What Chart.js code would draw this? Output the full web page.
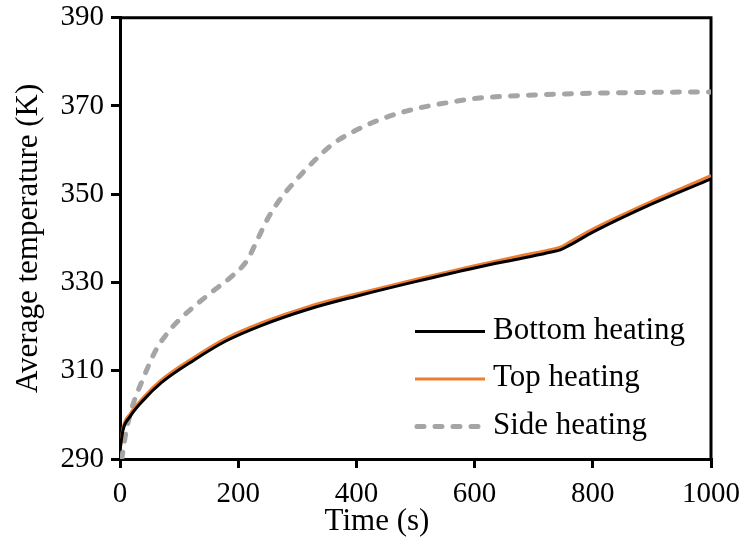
<!DOCTYPE html>
<html><head><meta charset="utf-8">
<script src="https://cdn.jsdelivr.net/npm/chart.js@4.4.1/dist/chart.umd.min.js"></script>
<style>html,body{margin:0;padding:0;background:#fff}#wrap{width:743px;height:545px}</style>
</head><body><div id="wrap"><canvas id="c" width="743" height="545"></canvas></div>
<script>
// ---- data ----
const xTicks = [0, 200, 400, 600, 800, 1000];
const yTicks = [290, 310, 330, 350, 370, 390];
const seriesNames = ['Bottom heating', 'Top heating', 'Side heating'];
const xTitle = 'Time (s)';
const yTitle = 'Average temperature (K)';

const bottomTime = [0, 5, 17, 40, 70, 125, 180, 240, 320, 400, 500, 600, 680, 730, 745, 760, 800, 900, 1000];
const bottomTemp = [292, 296.5, 299.6, 303.4, 307.3, 312.4, 316.8, 320.3, 324, 326.9, 330.2, 333.3, 335.5, 336.9, 337.4, 338.4, 341.4, 347.8, 353.5];

const topTime = [0, 5, 17, 40, 70, 125, 180, 240, 320, 400, 500, 600, 680, 730, 745, 760, 800, 900, 1000];
const topTemp = [292, 297, 300.2, 304, 307.9, 313, 317.4, 320.9, 324.6, 327.4, 330.7, 333.8, 336.1, 337.5, 338, 339.1, 342.1, 348.4, 354.2];

const sideTime = [3, 10, 20, 40, 60, 80, 100, 150, 190, 215, 230, 250, 270, 290, 310, 335, 360, 395, 430, 470, 515, 565, 600, 700, 800, 900, 1000];
const sideTemp = [290, 296, 301.5, 308.5, 314.5, 318.5, 321.5, 327.3, 331.5, 335, 339, 344.5, 348.7, 352, 355, 358.4, 361.4, 364.2, 366.4, 368.3, 369.8, 371, 371.7, 372.5, 372.9, 373.1, 373.2];

const FONT = "'Liberation Serif', 'Times New Roman', serif";
const toXY = (xs, ys) => xs.map((x, i) => ({x: x, y: ys[i]}));

const framePlugin = {
  id: 'frame',
  beforeDatasetsDraw(chart) {
    const {ctx, chartArea: a} = chart;
    ctx.save();
    ctx.strokeStyle = '#000';
    ctx.lineWidth = 3;
    ctx.beginPath();
    ctx.moveTo(a.left - 1.5, a.top);
    ctx.lineTo(a.right, a.top);
    ctx.lineTo(a.right, a.bottom);
    ctx.stroke();
    ctx.restore();
  }
};

const textPlugin = {
  id: 'texts',
  afterDraw(chart) {
    const {ctx} = chart;
    ctx.save();
    ctx.fillStyle = '#000';
    ctx.font = '31px ' + FONT;
    ctx.textAlign = 'center';
    ctx.textBaseline = 'middle';
    ctx.fillText(xTitle, 377, 522);
    const x0 = 415, x1 = 485, tx = 493, ys = [331.5, 379, 426.5];
    chart.data.datasets.forEach((ds, i) => {
      ctx.save();
      ctx.strokeStyle = ds.borderColor;
      ctx.lineWidth = ds.borderWidth;
      ctx.lineCap = ds.borderCapStyle || 'butt';
      ctx.setLineDash(ds.borderDash || []);
      ctx.beginPath();
      ctx.moveTo(x0 + (ds.borderDash ? 2 : 0), ys[i]);
      ctx.lineTo(x1, ys[i]);
      ctx.stroke();
      ctx.restore();
      ctx.fillStyle = '#000';
      ctx.font = '31px ' + FONT;
      ctx.textAlign = 'left';
      ctx.textBaseline = 'middle';
      ctx.fillText(ds.label, tx, ys[i] - 1);
    });
    ctx.restore();
  }
};

const zeroPad = s => { s.paddingTop = 0; s.paddingBottom = 0; s.paddingLeft = 0; s.paddingRight = 0; };

new Chart(document.getElementById('c'), {
  type: 'line',
  data: {
    datasets: [
      {label: seriesNames[0], data: toXY(bottomTime, bottomTemp), borderColor: '#000000', borderWidth: 3, pointRadius: 0, cubicInterpolationMode: 'monotone', fill: false},
      {label: seriesNames[1], data: toXY(topTime, topTemp), borderColor: '#ED7D31', borderWidth: 3, pointRadius: 0, cubicInterpolationMode: 'monotone', fill: false},
      {label: seriesNames[2], data: toXY(sideTime, sideTemp), borderColor: '#A5A5A5', borderWidth: 5, borderDash: [7, 11], borderCapStyle: 'round', pointRadius: 0, cubicInterpolationMode: 'monotone', fill: false}
    ]
  },
  options: {
    responsive: false,
    animation: false,
    devicePixelRatio: 1,
    layout: {padding: {top: 17.75, right: 32, left: 0, bottom: 0}},
    plugins: {legend: {display: false}, tooltip: {enabled: false}},
    scales: {
      x: {
        type: 'linear', min: 0, max: 1000,
        afterBuildTicks: s => { s.ticks = xTicks.map(v => ({value: v})); },
        afterFit: s => { s.height = 86; zeroPad(s); },
        ticks: {font: {family: FONT, size: 29}, color: '#000', padding: 9, maxRotation: 0, autoSkip: false, callback: v => String(v)},
        grid: {display: true, drawOnChartArea: false, drawTicks: true, tickLength: 9, color: '#000', lineWidth: 3},
        border: {display: true, color: '#000', width: 3},
        title: {display: false, text: xTitle}
      },
      y: {
        type: 'linear', min: 290, max: 390,
        afterBuildTicks: s => { s.ticks = yTicks.map(v => ({value: v})); },
        afterFit: s => { s.width = 120; zeroPad(s); },
        ticks: {font: {family: FONT, size: 29}, color: '#000', padding: 7, autoSkip: false, callback: v => String(v)},
        grid: {display: true, drawOnChartArea: false, drawTicks: true, tickLength: 9, color: '#000', lineWidth: 3},
        border: {display: true, color: '#000', width: 3},
        title: {display: true, text: yTitle, color: '#000', font: {family: FONT, size: 31}, padding: {top: 10, bottom: 0}}
      }
    }
  },
  plugins: [framePlugin, textPlugin]
});
</script></body></html>
